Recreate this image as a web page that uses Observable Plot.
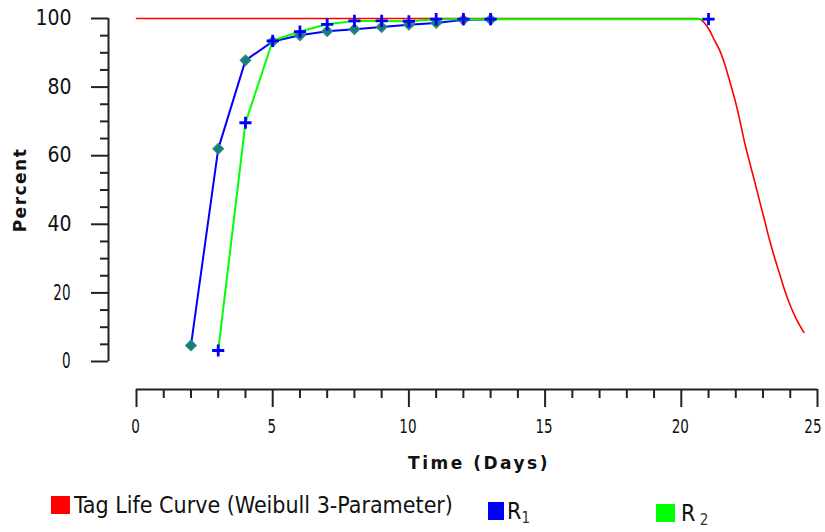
<!DOCTYPE html>
<html>
<head>
<meta charset="utf-8">
<script src="https://cdn.jsdelivr.net/npm/d3@7"></script>
<script src="https://cdn.jsdelivr.net/npm/@observablehq/plot@0.6"></script>
<style>
  body { margin: 0; background: #fff; }
  #chart { width: 825px; }
  .legend { position: relative; width: 825px; height: 42px; font-family: 'Liberation Sans Narrow', 'DejaVu Sans Condensed', 'Liberation Sans', sans-serif; font-size: 23px; color: #111; }
  .legend .sw { position: absolute; }
  .legend .lb { position: absolute; line-height: 1; white-space: nowrap; }
  .legend sub { font-size: 15px; position: relative; top: 4px; vertical-align: baseline; color: #333; }
</style>
</head>
<body>
<div id="chart"></div>
<script>
// Tag life curve (Weibull 3-Parameter)
const weibullDays = [0, 20.6, 20.86, 21.04, 21.22, 21.41, 21.59, 21.77, 21.96, 22.14, 22.32, 22.51, 22.69, 22.87, 23.06, 23.24, 23.42, 23.61, 23.79, 23.97, 24.21, 24.5];
const weibullPct  = [100, 100, 98.6, 96.5, 93.6, 90.7, 86.8, 81.9, 76.6, 70.6, 64.0, 58.0, 52.6, 46.9, 41.1, 35.4, 30.4, 25.5, 20.9, 16.9, 12.6, 8.5];

// R1
const r1Days = [2, 3, 4, 5, 6, 7, 8, 9, 10, 11, 12, 13];
const r1Pct  = [4.7, 62.0, 87.8, 93.3, 95.1, 96.3, 96.9, 97.5, 98.2, 98.7, 99.6, 99.7];

// R2
const r2Days = [3, 4, 5, 6, 7, 8, 9, 10, 11, 12, 13, 21];
const r2Pct  = [3.2, 69.6, 93.5, 96.2, 98.3, 99.3, 99.3, 99.2, 99.8, 99.8, 99.8, 99.8];

// Axis ticks
const xMajorTicks = [0, 5, 10, 15, 20, 25];
const xMinorTicks = [1, 2, 3, 4, 6, 7, 8, 9, 11, 12, 13, 14, 16, 17, 18, 19, 21, 22, 23, 24];
const yMajorTicks = [0, 20, 40, 60, 80, 100];
const yMinorTicks = [5, 10, 15, 25, 30, 35, 45, 50, 55, 65, 70, 75, 85, 90, 95];

const xTitle = "Time (Days)";
const yTitle = "Percent";
const legendNames = ["Tag Life Curve (Weibull 3-Parameter)", "R", "R"];
const legendSubs = ["", "1", " 2"];
const seriesColors = ["#ff0000", "#0000ff", "#00ff00"];

const weibull = weibullDays.map((t, i) => ({t, p: weibullPct[i]}));
const r1 = r1Days.map((t, i) => ({t, p: r1Pct[i]}));
const r2 = r2Days.map((t, i) => ({t, p: r2Pct[i]}));

const tickFont = "'Liberation Sans Narrow', 'DejaVu Sans Condensed', 'Liberation Sans', sans-serif";
const boldFont = "'DejaVu Sans', Verdana, sans-serif";

const plot = Plot.plot({
  width: 825,
  height: 490,
  marginLeft: 136,
  marginRight: 8,
  marginTop: 18,
  marginBottom: 129,
  x: {domain: [0, 25]},
  y: {domain: [0, 100]},
  style: {fontFamily: tickFont, fontSize: "21px", background: "#fff", color: "#111", overflow: "visible"},
  marks: [
    // x axis (detached, below the frame)
    Plot.ruleY([0], {dy: 28, stroke: "#222", strokeWidth: 2}),
    Plot.axisX({ticks: xMajorTicks, tickSize: 18, tickPadding: 12, dy: 28, strokeWidth: 2, stroke: "#222", tickFormat: d => String(d), label: null, fontSize: 19}),
    Plot.axisX({ticks: xMinorTicks, tickSize: 9, dy: 28, strokeWidth: 2, stroke: "#222", tickFormat: () => "", label: null}),
    // y axis (detached, left of the frame)
    Plot.ruleX([0], {y1: 0, y2: 100, dx: -28, stroke: "#222", strokeWidth: 2}),
    Plot.axisY({ticks: yMajorTicks, tickSize: 17, tickPadding: 20, dx: -28, strokeWidth: 2, stroke: "#222", tickFormat: d => String(d), label: null, fontSize: 21}),
    Plot.axisY({ticks: yMinorTicks, tickSize: 8, dx: -28, strokeWidth: 2, stroke: "#222", tickFormat: () => "", label: null}),
    // axis titles
    Plot.text([xTitle], {frameAnchor: "bottom", textAnchor: "middle", lineAnchor: "middle", dy: 102, dx: 2, fontFamily: boldFont, fontWeight: "bold", fontSize: 17, fill: "#111"}),
    Plot.text([yTitle], {frameAnchor: "left", textAnchor: "middle", lineAnchor: "middle", dx: -116, rotate: -90, fontFamily: boldFont, fontWeight: "bold", fontSize: 17, fill: "#111"}),
    // series
    Plot.line(weibull, {x: "t", y: "p", stroke: seriesColors[0], strokeWidth: 1.6, curve: "monotone-x"}),
    Plot.line(r1, {x: "t", y: "p", stroke: seriesColors[1], strokeWidth: 2}),
    Plot.line(r2, {x: "t", y: "p", stroke: seriesColors[2], strokeWidth: 2}),
    Plot.dot(r1, {x: "t", y: "p", symbol: "square", rotate: 45, r: 4.3, fill: "#1a7d7a", stroke: "#2b8a86", strokeWidth: 1}),
    Plot.dot(r2, {x: "t", y: "p", symbol: "plus", r: 4, stroke: "#0000ff", strokeWidth: 2.8})
  ]
});
document.getElementById("chart").appendChild(plot);
plot.querySelectorAll("text").forEach(t => {
  const s = t.textContent;
  if (s === yTitle) t.setAttribute("letter-spacing", "1.5");
  if (s === xTitle) t.setAttribute("letter-spacing", "2.5");
  const g = t.closest("g");
  if (xMajorTicks.map(String).includes(s) && g && /x/.test(g.getAttribute("aria-label") || "")) {
    t.setAttribute("textLength", String(8.6 * s.length));
    t.setAttribute("lengthAdjust", "spacingAndGlyphs");
    if (s === "25") {
      t.setAttribute("text-anchor", "end");
      t.setAttribute("dx", "4");
    } else {
      t.setAttribute("dx", "-1");
    }
  }
});

// legend below the SVG
const legend = document.createElement("div");
legend.className = "legend";
const items = [
  {sx: 51, sy: 6, sw: 19, sh: 18, lx: 74, ly: 4},
  {sx: 488, sy: 12, sw: 16, sh: 18, lx: 507, ly: 10},
  {sx: 656, sy: 14, sw: 19, sh: 18, lx: 681, ly: 12}
];
items.forEach((it, i) => {
  const sw = document.createElement("div");
  sw.className = "sw";
  Object.assign(sw.style, {left: it.sx + "px", top: it.sy + "px", width: it.sw + "px", height: it.sh + "px", background: seriesColors[i]});
  legend.appendChild(sw);
  const lb = document.createElement("div");
  lb.className = "lb";
  Object.assign(lb.style, {left: it.lx + "px", top: it.ly + "px"});
  lb.textContent = legendNames[i];
  if (legendSubs[i]) {
    const s = document.createElement("sub");
    s.textContent = legendSubs[i];
    s.style.whiteSpace = "pre";
    lb.appendChild(s);
  }
  legend.appendChild(lb);
});
document.getElementById("chart").appendChild(legend);
</script>
</body>
</html>
